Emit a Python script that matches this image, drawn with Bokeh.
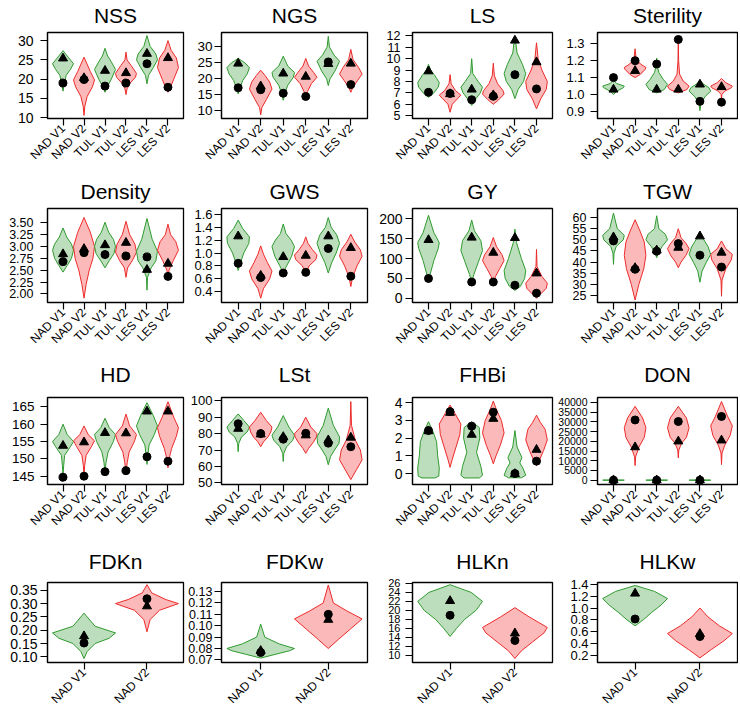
import math
from bokeh.plotting import figure
from bokeh.models import Range1d, FixedTicker, Title
from bokeh.layouts import gridplot
from bokeh.embed import file_html
from bokeh.resources import INLINE

# ---------------- data ----------------
CATS6 = ["NAD V1", "NAD V2", "TUL V1", "TUL V2", "LES V1", "LES V2"]
CATS2 = ["NAD V1", "NAD V2"]

# each violin: y levels and relative half-width (density) at those levels
NSS_vy = [[16.9, 19, 21, 22.5, 24, 25.5, 27.4], [10.6, 13, 15.5, 18, 19.8, 22, 25.7],
          [16.6, 18, 20, 22.5, 24.5, 26, 28], [16.0, 17.5, 19, 20.5, 21.5, 23.5, 25, 27],
          [18.8, 21, 23, 25, 26.5, 28.5, 31.3], [16.6, 18, 20, 23, 25.5, 27.5, 30]]
NSS_vw = [[0, .15, .3, .7, 1, .55, 0], [0, .08, .3, .8, 1, .6, 0], [0, .2, .6, 1, .6, .25, 0],
          [0, .1, .4, .9, 1, .5, .1, 0], [0, .15, .6, 1, .85, .3, 0], [0, .25, .55, 1, .8, .3, 0]]
NSS_tri = [25.4, 20.3, 22.2, 21.6, 26.6, 25.5]
NSS_dot = [19.0, 19.9, 18.2, 19.0, 24.0, 17.9]

NGS_vy = [[15.3, 17, 19.5, 21.5, 23.5, 25, 26.4], [8.7, 11, 13.5, 16.8, 19, 21, 22.7],
          [13.3, 15.5, 18, 20.5, 22, 24, 27.1], [13.8, 16, 18.5, 20.5, 22, 24, 26.4],
          [17.9, 20, 22.5, 25.5, 27.5, 30, 33.3], [15.8, 17.5, 19.5, 21.5, 23.5, 26, 29.2]]
NGS_vw = [[0, .15, .4, .8, 1, .6, 0], [0, .1, .5, 1, .8, .4, 0], [0, .15, .4, .9, 1, .4, 0],
          [0, .15, .5, 1, .7, .25, 0], [0, .15, .6, 1, .5, .1, 0], [0, .2, .6, 1, .7, .2, 0]]
NGS_tri = [24.8, 17.7, 21.7, 20.7, 24.7, 24.8]
NGS_dot = [17.2, 16.6, 15.5, 14.5, 25.3, 18.2]

LS_vy = [[6.6, 7.0, 7.5, 7.9, 8.5, 9.0, 9.5], [5.3, 6.0, 6.5, 6.8, 7.2, 7.8, 8.6],
         [5.9, 6.5, 7.0, 7.5, 8.0, 8.7, 10.0], [6.0, 6.4, 6.9, 7.2, 7.8, 8.5, 9.6],
         [6.5, 7.3, 8.0, 8.7, 9.5, 10.5, 12.0], [5.6, 6.5, 7.3, 8.0, 9.0, 10.0, 11.4]]
LS_vw = [[0, .5, .9, 1, .6, .2, 0], [0, .2, .7, 1, .5, .1, 0], [0, .4, .8, 1, .6, .1, 0],
         [0, .5, 1, .9, .4, .1, 0], [0, .3, .8, 1, .7, .2, 0], [0, .4, .9, 1, .5, .15, 0]]
LS_tri = [8.9, 6.9, 7.3, 6.8, 11.6, 9.7]
LS_dot = [7.05, 6.95, 6.4, 6.7, 8.6, 7.35]

STER_vy = [[1.0, 1.02, 1.04, 1.05, 1.065, 1.085], [1.10, 1.12, 1.15, 1.16, 1.18, 1.21, 1.27],
           [1.01, 1.03, 1.06, 1.09, 1.13, 1.17, 1.215], [1.01, 1.03, 1.05, 1.08, 1.12, 1.2, 1.33],
           [0.905, 0.95, 0.99, 1.02, 1.04, 1.065, 1.085], [0.96, 1.0, 1.02, 1.04, 1.05, 1.07, 1.095]]
STER_vw = [[0, .3, .9, 1, .3, 0], [0, .5, .95, 1, .5, .1, 0], [0, .7, 1, .6, .2, .05, 0],
           [0, .8, 1, .45, .12, .03, 0], [0, .1, .5, 1, .85, .25, 0], [0, .03, .3, .9, 1, .4, 0]]
STER_tri = [1.03, 1.14, 1.03, 1.03, 1.06, 1.045]
STER_dot = [1.10, 1.20, 1.18, 1.325, 0.96, 0.955]

DENS_vy = [[2.46, 2.6, 2.75, 2.92, 3.05, 3.2, 3.39], [1.91, 2.2, 2.5, 2.75, 3.0, 3.3, 3.61],
           [2.55, 2.7, 2.85, 3.0, 3.15, 3.3, 3.51], [2.35, 2.55, 2.7, 2.88, 3.05, 3.25, 3.53],
           [2.08, 2.35, 2.55, 2.7, 2.9, 3.15, 3.59], [2.30, 2.5, 2.7, 2.92, 3.1, 3.25, 3.47]]
DENS_vw = [[0, .4, .8, 1, .8, .35, 0], [0, .2, .5, .85, 1, .6, 0], [0, .4, .85, 1, .8, .35, 0],
           [0, .15, .6, 1, .85, .35, 0], [0, .05, .4, .85, 1, .5, 0], [0, .1, .5, 1, .75, .25, 0]]
DENS_tri = [2.84, 2.95, 3.03, 3.08, 2.51, 2.64]
DENS_dot = [2.68, 2.87, 2.83, 2.80, 2.78, 2.37]

GWS_vy = [[0.73, 0.85, 1.0, 1.15, 1.25, 1.38, 1.51], [0.30, 0.45, 0.6, 0.72, 0.85, 0.98, 1.11],
          [0.7, 0.8, 0.95, 1.1, 1.2, 1.3, 1.45], [0.68, 0.8, 0.9, 0.97, 1.05, 1.15, 1.25],
          [0.69, 0.85, 1.0, 1.15, 1.28, 1.4, 1.55], [0.48, 0.62, 0.8, 0.95, 1.05, 1.17, 1.29]]
GWS_vw = [[0, .2, .5, .95, 1, .4, 0], [0, .25, .8, 1, .6, .25, 0], [0, .3, .75, 1, .7, .25, 0],
          [0, .3, .9, 1, .6, .2, 0], [0, .3, .7, 1, .75, .25, 0], [0, .15, .55, 1, .85, .35, 0]]
GWS_tri = [1.26, 0.65, 0.94, 0.96, 1.26, 1.08]
GWS_dot = [0.84, 0.62, 0.69, 0.70, 1.07, 0.64]

GY_vy = [[42, 60, 95, 125, 140, 165, 209], [],
         [40, 60, 90, 120, 145, 170, 197], [38, 55, 75, 95, 110, 130, 153],
         [20, 30, 50, 70, 100, 140, 174], [0, 10, 25, 38, 55, 80, 123]]
GY_vw = [[0, .15, .5, .9, 1, .5, 0], [], [0, .2, .6, 1, .85, .25, 0],
         [0, .2, .6, 1, .8, .3, 0], [0, .5, .9, 1, .6, .15, 0], [0, .35, .9, 1, .5, .05, 0]]
GY_tri = [147, None, 153, 115, 152, 63]
GY_dot = [50, None, 41, 41, 33, 13]

TGW_vy = [[39, 44, 47, 50, 52, 55, 62], [23, 30, 37, 43, 49, 54, 59],
          [42, 44, 47, 50, 52.5, 55, 60.8], [37.5, 40, 43, 46, 48.5, 51, 55],
          [31, 36, 40, 43.5, 47, 50.5, 53.8], [24.7, 32, 37, 41, 43.5, 46, 49.5]]
TGW_vw = [[0, .05, .25, .9, 1, .35, 0], [0, .35, .8, 1, .85, .45, 0], [0, .15, .5, 1, .8, .2, 0],
          [0, .25, .7, 1, .7, .25, 0], [0, .2, .6, 1, .75, .3, 0], [0, .05, .4, .9, 1, .4, 0]]
TGW_tri = [51.2, 37.4, 45.3, 46.5, 51.6, 44.3]
TGW_dot = [49.5, 36.8, 44.9, 48.3, 43.1, 37.8]

HD_vy = [[145.5, 148, 151, 153.5, 155, 157, 160], [145, 148, 151, 153.5, 155.2, 157, 159.5],
         [146, 149, 152, 155, 157, 159, 161.7], [146, 149, 152, 155, 157, 159.5, 162.9],
         [148.4, 151, 154, 157, 159.5, 162.5, 166.2], [147.4, 150, 153, 156.5, 159, 162, 166.5]]
HD_vw = [[0, .06, .15, .7, 1, .4, 0], [0, .06, .2, .7, 1, .4, 0], [0, .1, .3, .8, 1, .4, 0],
         [0, .12, .3, .8, 1, .35, 0], [0, .08, .2, .7, 1, .6, 0], [0, .1, .35, .8, 1, .55, 0]]
HD_tri = [153.8, 154.8, 157.5, 157.4, 163.7, 163.7]
HD_dot = [144.7, 145.0, 146.3, 146.6, 150.6, 149.3]

LST_vy = [[69, 74, 78, 81, 84, 88, 92], [72, 75, 78, 81, 84, 88, 93],
          [63, 68, 72, 76, 79, 84, 91], [68, 71, 75, 78, 80, 84, 90],
          [61, 66, 70, 74, 78, 85, 95.5], [52, 58, 64, 70, 76, 85, 99.5]]
LST_vw = [[0, .05, .3, .8, 1, .5, 0], [0, .25, .65, .9, 1, .5, 0], [0, .05, .3, .85, 1, .5, 0],
          [0, .25, .7, .95, 1, .45, 0], [0, .2, .55, .95, 1, .45, 0], [0, .5, 1, .85, .4, .06, 0]]
LST_tri = [83, 79.6, 78, 79, 76, 77.6]
LST_dot = [86, 80, 76.6, 80.2, 74.2, 72]

FHB_vy = [[-0.25, -0.15, 0.3, 1.0, 1.8, 2.4, 2.93], [0.35, 0.8, 1.5, 2.2, 2.8, 3.4, 3.87],
          [-0.25, -0.1, 0.4, 1.2, 2.0, 2.6, 2.93], [0.55, 1.0, 1.6, 2.3, 3.0, 3.6, 4.1],
          [-0.24, -0.1, 0.3, 0.6, 0.9, 1.5, 2.43], [0.45, 0.8, 1.3, 1.9, 2.5, 2.9, 3.3]]
FHB_vw = [[.6, .95, 1, .85, .75, .4, 0], [0, .2, .55, .9, 1, .45, 0], [.7, 1, .85, .45, .75, .7, 0],
          [0, .25, .65, 1, .75, .3, 0], [.6, 1, .75, .45, .65, .2, 0], [0, .3, .65, 1, .8, .35, 0]]
FHB_tri = [2.4, 3.44, 2.2, 3.1, -0.02, 1.35]
FHB_dot = [2.43, 3.5, 2.68, 3.47, 0.0, 0.7]

DON_vy = [[-150, 0, 150], [7500, 12000, 17000, 22000, 27000, 32000, 38000],
          [-150, 0, 150], [11500, 15500, 19000, 22000, 27000, 32000, 38000],
          [-150, 0, 150], [8000, 14000, 18000, 23000, 28000, 33000, 40500]]
DON_vw = [[0, 1, 0], [0, .05, .35, .85, 1, .7, 0], [0, 1, 0],
          [0, .05, .3, .75, 1, .75, 0], [0, 1, 0], [0, .05, .3, .8, 1, .55, 0]]
DON_tri = [0, 17000, 0, 20000, 0, 20500]
DON_dot = [0, 31000, 0, 30200, 0, 32800]

FDKN_vy = [[0.094, 0.12, 0.15, 0.17, 0.19, 0.215, 0.264], [0.194, 0.24, 0.275, 0.3, 0.315, 0.34, 0.371]]
FDKN_vw = [[0, .1, .35, .8, 1, .35, 0], [0, .1, .4, 1, .6, .15, 0]]
FDKN_tri = [0.178, 0.29]
FDKN_dot = [0.152, 0.318]

FDKW_vy = [[0.0716, 0.075, 0.078, 0.080, 0.084, 0.09, 0.1014], [0.080, 0.088, 0.097, 0.106, 0.113, 0.12, 0.1358]]
FDKW_vw = [[0, .45, .85, 1, .55, .12, 0], [0, .3, .65, 1, .55, .15, 0]]
FDKW_tri = [0.078, 0.1053]
FDKW_dot = [0.0765, 0.110]

HLKN_vy = [[14.2, 16, 18, 20, 22, 24, 25.7], [9.3, 11, 13, 15, 16.2, 18.5, 20.6]]
HLKN_vw = [[0, .2, .45, .8, 1, .65, 0], [0, .2, .55, .9, 1, .45, 0]]
HLKN_tri = [22.1, 14.9]
HLKN_dot = [18.9, 13.3]

HLKW_vy = [[0.70, 0.8, 0.92, 1.05, 1.16, 1.28, 1.38], [0.16, 0.3, 0.45, 0.57, 0.7, 0.85, 1.0]]
HLKW_vw = [[0, .25, .5, .8, 1, .6, 0], [0, .35, .75, 1, .6, .25, 0]]
HLKW_tri = [1.245, 0.565]
HLKW_dot = [0.815, 0.52]

# y-axis ticks
NSS_ticks = [10, 15, 20, 25, 30]
NGS_ticks = [10, 15, 20, 25, 30]
LS_ticks = [5, 6, 7, 8, 9, 10, 11, 12]
STER_ticks = [0.9, 1.0, 1.1, 1.2, 1.3]
DENS_ticks = [2.0, 2.25, 2.5, 2.75, 3.0, 3.25, 3.5]
GWS_ticks = [0.4, 0.6, 0.8, 1.0, 1.2, 1.4, 1.6]
GY_ticks = [0, 50, 100, 150, 200]
TGW_ticks = [25, 30, 35, 40, 45, 50, 55, 60]
HD_ticks = [145, 150, 155, 160, 165]
LST_ticks = [50, 60, 70, 80, 90, 100]
FHB_ticks = [0, 1, 2, 3, 4]
DON_ticks = [0, 5000, 10000, 15000, 20000, 25000, 30000, 35000, 40000]
FDKN_ticks = [0.10, 0.15, 0.20, 0.25, 0.30, 0.35]
FDKW_ticks = [0.07, 0.08, 0.09, 0.10, 0.11, 0.12, 0.13]
HLKN_ticks = [10, 12, 14, 16, 18, 20, 22, 24, 26]
HLKW_ticks = [0.2, 0.4, 0.6, 0.8, 1.0, 1.2, 1.4]

# ---------------- styling / layout ----------------
FONT = "Liberation Sans"
GREEN_FILL, GREEN_LINE = "#BDDEBD", "#2F9A2F"
RED_FILL, RED_LINE = "#FBB9B9", "#EC2B2B"
HALF = 0.5

COL_W = [185, 185, 185, 183]
ROW_H = [173, 183, 184, 174]
TITLE_GAP = [3, 3, 9, 7]   # extra pixels between title and plot box

# (title, cats, vy, vw, tri, dot, ticks, decimals, y-range, label size, label standoff, borders L,R,T,B)
PANELS = [
    [("NSS", CATS6, NSS_vy, NSS_vw, NSS_tri, NSS_dot, NSS_ticks, 0, (9.8, 32.1), 14, 7, (46, 2, 32, 55)),
     ("NGS", CATS6, NGS_vy, NGS_vw, NGS_tri, NGS_dot, NGS_ticks, 0, (7.6, 34.5), 13.5, 2, (35, 2, 32, 55)),
     ("LS", CATS6, LS_vy, LS_vw, LS_tri, LS_dot, LS_ticks, 0, (4.75, 12.3), 12.5, 5, (42, 3, 32, 55)),
     ("Sterility", CATS6, STER_vy, STER_vw, STER_tri, STER_dot, STER_ticks, 1, (0.859, 1.366), 13, 6, (42, 1, 32, 55))],
    [("Density", CATS6, DENS_vy, DENS_vw, DENS_tri, DENS_dot, DENS_ticks, 2, (1.82, 3.80), 12.5, 7, (47, 2, 35, 54)),
     ("GWS", CATS6, GWS_vy, GWS_vw, GWS_tri, GWS_dot, GWS_ticks, 1, (0.233, 1.69), 13, 2, (33, 3, 35, 54)),
     ("GY", CATS6, GY_vy, GY_vw, GY_tri, GY_dot, GY_ticks, 0, (-10.5, 226), 14, 3, (42, 2, 35, 54)),
     ("TGW", CATS6, TGW_vy, TGW_vw, TGW_tri, TGW_dot, TGW_ticks, 0, (21.9, 64.05), 12.5, 4, (40, 1, 35, 54))],
    [("HD", CATS6, HD_vy, HD_vw, HD_tri, HD_dot, HD_ticks, 0, (142.6, 167.7), 13.5, 6, (45, 2, 41, 56)),
     ("LSt", CATS6, LST_vy, LST_vw, LST_tri, LST_dot, LST_ticks, 0, (49, 102), 13, 2, (35, 3, 41, 56)),
     ("FHBi", CATS6, FHB_vy, FHB_vw, FHB_tri, FHB_dot, FHB_ticks, 0, (-0.62, 4.3), 14, 3, (42, 1, 41, 56)),
     ("DON", CATS6, DON_vy, DON_vw, DON_tri, DON_dot, DON_ticks, 0, (-2240, 42565), 10.5, 3, (40, 1, 41, 56))],
    [("FDKn", CATS2, FDKN_vy, FDKN_vw, FDKN_tri, FDKN_dot, FDKN_ticks, 2, (0.079, 0.379), 14, 3, (45, 2, 42, 46)),
     ("FDKw", CATS2, FDKW_vy, FDKW_vw, FDKW_tri, FDKW_dot, FDKW_ticks, 2, (0.0677, 0.138), 12.5, 2, (33, 3, 42, 46)),
     ("HLKn", CATS2, HLKN_vy, HLKN_vw, HLKN_tri, HLKN_dot, HLKN_ticks, 0, (8.4, 26.2), 11, 5, (42, 3, 42, 46)),
     ("HLKw", CATS2, HLKW_vy, HLKW_vw, HLKW_tri, HLKW_dot, HLKW_ticks, 1, (0.082, 1.43), 13, 2, (33, 1, 42, 46))],
]


def make_panel(spec, w, h, gap):
    title, cats, vy, vw, tri, dot, ticks, dec, yr, lsize, lstand, (bl, br, bt, bb) = spec
    n = len(cats)
    pad = 0.04 * n
    p = figure(width=w, height=h, x_range=Range1d(0.5 - pad, n + 0.5 + pad),
               y_range=Range1d(*yr), output_backend="svg", toolbar_location=None,
               min_border_left=bl, min_border_right=br, min_border_top=bt, min_border_bottom=bb,
               background_fill_color="white", border_fill_color="white")
    xs, ys, fills, lines = [], [], [], []
    for i, (yy, ww) in enumerate(zip(vy, vw)):
        if not yy:
            continue
        c = i + 1
        left = [c - HALF * d for d in ww]
        right = [c + HALF * d for d in ww]
        xs.append(left + right[::-1])
        ys.append(list(yy) + list(yy)[::-1])
        green = cats[i].endswith("V1")
        fills.append(GREEN_FILL if green else RED_FILL)
        lines.append(GREEN_LINE if green else RED_LINE)
    p.patches(xs, ys, fill_color=fills, line_color=lines, line_width=1)
    tx = [i + 1 for i, v in enumerate(tri) if v is not None]
    ty = [v for v in tri if v is not None]
    dx = [i + 1 for i, v in enumerate(dot) if v is not None]
    dy = [v for v in dot if v is not None]
    p.scatter(tx, ty, marker="triangle", size=9, color="black")
    p.scatter(dx, dy, marker="circle", size=8, color="black")

    # thin empty spacer between the plot box and the title
    p.add_layout(Title(text=" ", text_font_size="1px", standoff=gap), "above")

    p.title.text = title
    p.title.align = "center"
    p.title.text_font = FONT
    p.title.text_font_size = "21px"
    p.title.text_font_style = "normal"
    p.title.text_color = "black"
    p.title.standoff = 0

    p.xgrid.visible = False
    p.ygrid.visible = False
    p.outline_line_color = "black"
    p.outline_line_width = 1.3
    p.outline_line_alpha = 1

    p.xaxis.ticker = FixedTicker(ticks=list(range(1, n + 1)))
    p.xaxis.major_label_overrides = {i + 1: cats[i] for i in range(n)}
    p.xaxis.major_label_orientation = math.pi / 4
    p.xaxis.major_label_text_font_size = "12px"
    p.xaxis.major_label_standoff = 1

    p.yaxis.ticker = FixedTicker(ticks=ticks)
    p.yaxis.major_label_overrides = {t: f"{t:.{dec}f}" for t in ticks}
    p.yaxis.major_label_text_font_size = f"{lsize}px"
    p.yaxis.major_label_standoff = lstand

    for ax in (p.xaxis, p.yaxis):
        ax.axis_line_color = "black"
        ax.axis_line_width = 1.2
        ax.major_tick_line_color = "black"
        ax.major_tick_line_width = 1.2
        ax.major_tick_out = 7
        ax.major_tick_in = 0
        ax.minor_tick_line_color = None
        ax.major_label_text_font = FONT
        ax.major_label_text_color = "black"
    return p


rows = []
for r, row in enumerate(PANELS):
    rows.append([make_panel(spec, COL_W[c], ROW_H[r], TITLE_GAP[r]) for c, spec in enumerate(row)])

grid = gridplot(rows, toolbar_location=None)
open("out.html", "w").write(file_html(grid, INLINE))
